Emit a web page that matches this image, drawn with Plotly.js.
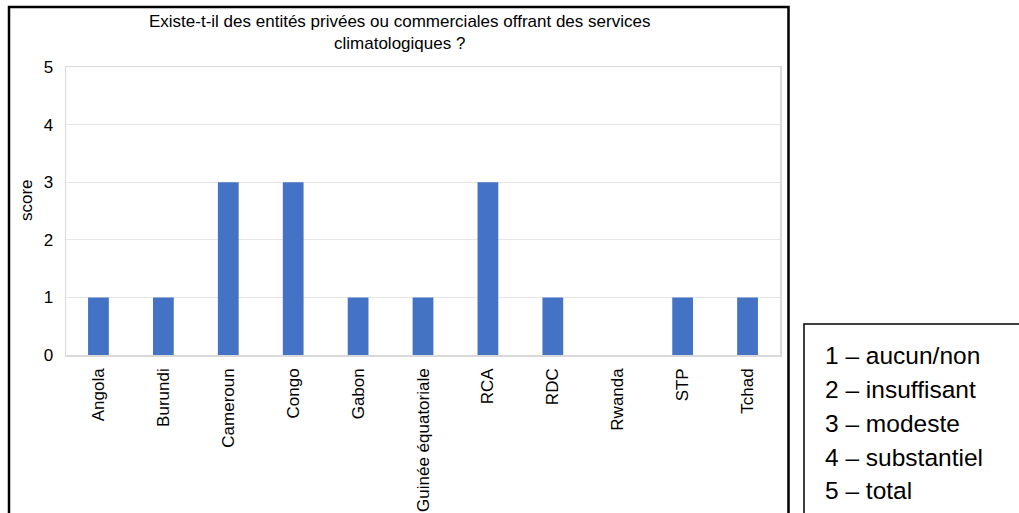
<!DOCTYPE html>
<html>
<head>
<meta charset="utf-8">
<script src="https://cdn.plot.ly/plotly-3.0.1.min.js"></script>
<style>html,body{margin:0;padding:0;background:#fff;}#chart{width:1019px;height:513px;}</style>
</head>
<body>
<div id="chart"></div>
<script>
const countries = ["Angola","Burundi","Cameroun","Congo","Gabon","Guinée équatoriale","RCA","RDC","Rwanda","STP","Tchad"];
const scores = [1,1,3,3,1,1,3,1,null,1,1];
const yTicks = [0,1,2,3,4,5];
const scaleLabels = ["1 – aucun/non","2 – insuffisant","3 – modeste","4 – substantiel","5 – total"];
const chartTitle = "Existe-t-il des entités privées ou commerciales offrant des services<br>climatologiques ?";
const yTitle = "score";

const W = 1019, H = 513;
const L = 66, R = 239, T = 67, B = 158;
const pw = W - L - R, ph = H - T - B;
const px = x => (x - L) / pw;
const py = y => (H - B - y) / ph;

const font = "Liberation Sans, Arial, sans-serif";

const legendY = [355, 389, 423, 457, 490];
const annotations = scaleLabels.map((t, i) => ({
  text: t, xref: 'paper', yref: 'paper', x: px(823), y: py(legendY[i]),
  xanchor: 'left', yanchor: 'middle', showarrow: false,
  font: {family: font, size: 24.5, color: '#000'}
}));
annotations.push({
  text: yTitle, xref: 'paper', yref: 'paper', x: px(26), y: py(200),
  xanchor: 'center', yanchor: 'middle', showarrow: false, textangle: -90,
  font: {family: font, size: 17, color: '#000'}
});
annotations.push({
  text: chartTitle, xref: 'paper', yref: 'paper', x: px(399), y: py(33),
  xanchor: 'center', yanchor: 'middle', align: 'center', showarrow: false,
  font: {family: font, size: 17, color: '#000'}
});

const shapes = [
  {type: 'rect', xref: 'paper', yref: 'paper', x0: px(9), x1: px(788.5), y0: py(540), y1: py(7),
   line: {color: '#000', width: 2.5}, fillcolor: 'rgba(0,0,0,0)'},
  {type: 'rect', xref: 'paper', yref: 'paper', x0: px(804), x1: px(1040), y0: py(540), y1: py(324),
   line: {color: '#000', width: 1.5}, fillcolor: 'rgba(0,0,0,0)'}
];

const data = [{
  type: 'bar', x: countries, y: scores,
  marker: {color: '#4472C4'}, width: 0.32, hoverinfo: 'x+y'
}];

const layout = {
  width: W, height: H,
  margin: {l: L, r: R, t: T, b: B, pad: 0},
  paper_bgcolor: '#fff', plot_bgcolor: '#fff',
  showlegend: false,
  font: {family: font, size: 17, color: '#000'},
  xaxis: {
    type: 'category', tickangle: -90, showgrid: false,
    showline: true, linecolor: '#d9d9d9', linewidth: 1.5, mirror: true,
    ticks: '', ticklabelstandoff: 5,
    tickfont: {family: font, size: 17, color: '#000'}, zeroline: false
  },
  yaxis: {
    range: [0, 5], tickvals: yTicks, showgrid: true, gridcolor: '#e6e6e6', gridwidth: 1,
    showline: true, linecolor: '#d9d9d9', linewidth: 1.5, mirror: true,
    ticks: '', ticklabelstandoff: 8, zeroline: false, fixedrange: true,
    tickfont: {family: font, size: 17, color: '#000'}
  },
  annotations: annotations,
  shapes: shapes
};

Plotly.newPlot('chart', data, layout, {displayModeBar: false, staticPlot: true});
</script>
</body>
</html>
